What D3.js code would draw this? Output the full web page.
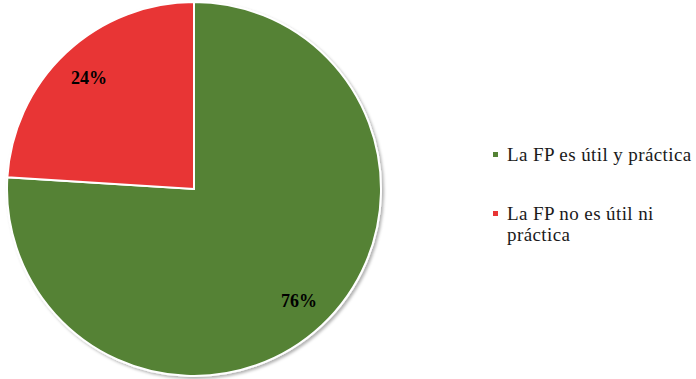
<!DOCTYPE html>
<html>
<head>
  <script src="https://d3js.org/d3.v7.min.js"></script>
  <style>
    body { margin: 0; background: #fff; }
    text { font-family: "Liberation Serif", "Times New Roman", "DejaVu Serif", serif; }
  </style>
</head>
<body>
  <script>
    var categories = ["La FP es útil y práctica", "La FP no es útil ni práctica"];
    var values = [76, 24];
    var labels = ["76%", "24%"];
    var colors = ["#548235", "#e83535"];
    var legendLines = [["La FP es útil y práctica"], ["La FP no es útil ni", "práctica"]];

    var width = 696,
        height = 379;

    var svg = d3.select('body')
      .append('svg')
      .attr('width', width)
      .attr('height', height);

    // soft shadow like the office chart
    var defs = svg.append('defs');
    var f = defs.append('filter').attr('id', 'shadow')
      .attr('x', '-10%').attr('y', '-10%').attr('width', '120%').attr('height', '120%');
    f.append('feDropShadow')
      .attr('dx', 2).attr('dy', 2).attr('stdDeviation', 1.5)
      .attr('flood-color', '#000').attr('flood-opacity', 0.3);

    var cx = 194, cy = 189, r = 187;

    var g = svg.append('g')
      .attr('transform', 'translate(' + cx + ',' + cy + ')');

    var pie = d3.pie().sort(null).value(function(d) { return d; });
    var arc = d3.arc().innerRadius(0).outerRadius(r);
    var arcs = pie(values);

    g.append('g')
      .attr('filter', 'url(#shadow)')
      .selectAll('path')
      .data(arcs)
      .enter()
      .append('path')
      .attr('d', arc)
      .attr('fill', function(d, i) { return colors[i]; })
      .attr('stroke', '#fff')
      .attr('stroke-width', 2);

    // data labels
    var labelArc = d3.arc().innerRadius(r * 0.82).outerRadius(r * 0.82);
    g.selectAll('text.lbl')
      .data(arcs)
      .enter()
      .append('text')
      .attr('class', 'lbl')
      .attr('transform', function(d) {
        var c = labelArc.centroid(d);
        return 'translate(' + c[0] + ',' + c[1] + ')';
      })
      .attr('text-anchor', 'middle')
      .attr('dy', '0.35em')
      .attr('font-size', 18)
      .attr('font-weight', 'bold')
      .attr('fill', '#000')
      .text(function(d, i) { return labels[i]; });

    // legend
    var legend = svg.append('g');
    var ly = [161, 220];
    categories.forEach(function(c, i) {
      legend.append('rect')
        .attr('x', 493)
        .attr('y', ly[i] - 9)
        .attr('width', 5)
        .attr('height', 5)
        .attr('fill', colors[i]);
      legendLines[i].forEach(function(line, j) {
        legend.append('text')
          .attr('x', 507)
          .attr('y', ly[i] + j * 21)
          .attr('font-size', 19)
          .attr('letter-spacing', 0.4)
          .attr('fill', '#1a1a1a')
          .text(line);
      });
    });
  </script>
</body>
</html>
